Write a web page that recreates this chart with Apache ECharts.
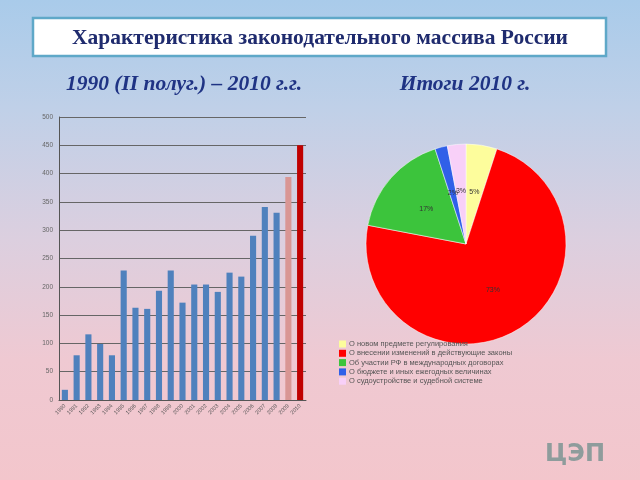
<!DOCTYPE html>
<html><head><meta charset="utf-8">
<script src="https://cdn.jsdelivr.net/npm/echarts@6/dist/echarts.min.js"></script>
<style>
html,body{margin:0;padding:0;width:640px;height:480px;overflow:hidden;}
body{background:linear-gradient(180deg,#a9cbea 0%,#bfd0e8 22%,#dccfdf 50%,#efc9d2 75%,#f3c6cc 100%);}
#c{width:640px;height:480px;}
</style></head>
<body><div id="c"></div>
<script>
const years = ['1990','1991','1992','1993','1994','1995','1996','1997','1998','1999','2000','2001','2002','2003','2004','2005','2006','2007','2008','2009','2010'];
const laws = [18,79,116,99,79,229,163,161,193,229,172,204,204,191,225,218,290,341,331,394,450];
const yTicks = [0,50,100,150,200,250,300,350,400,450,500];
const pieNames = ['О новом предмете регулирования','О внесении изменений в действующие законы','Об участии РФ в международных договорах','О бюджете и иных ежегодных величинах','О судоустройстве и судебной системе'];
const pieValues = [5,73,17,2,3];

const pieColors = ['#fdfd9c','#ff0000','#3cc43c','#3060e8','#f8d0f8'];
const barColor = function(p){ if(p.name==='2010') return '#c00000'; if(p.name==='2009') return '#d99694'; return '#4f81bd'; };

const chart = echarts.init(document.getElementById('c'), null, {renderer:'canvas'});
chart.setOption({
  backgroundColor:'transparent',
  animation:false,
  graphic:[
    {type:'rect', shape:{x:33,y:18,width:573,height:38}, style:{fill:'#ffffff', stroke:'#5fa8c8', lineWidth:2.5}},
    {type:'text', x:320, y:38, style:{text:'Характеристика законодательного массива России', font:'bold 21.5px "Liberation Serif", "DejaVu Serif", serif', fill:'#1f2b6e', align:'center', verticalAlign:'middle'}},
    {type:'text', x:184, y:84, style:{text:'1990 (II полуг.) – 2010 г.г.', font:'italic bold 21.5px "Liberation Serif", "DejaVu Serif", serif', fill:'#1f3384', align:'center', verticalAlign:'middle'}},
    {type:'text', x:465, y:84, style:{text:'Итоги 2010 г.', font:'italic bold 21.5px "Liberation Serif", "DejaVu Serif", serif', fill:'#1f3384', align:'center', verticalAlign:'middle'}},
    {type:'text', x:575, y:455, style:{text:'ЦЭП', font:'bold 24px "DejaVu Sans", sans-serif', fill:'#8e9c9c', align:'center', verticalAlign:'middle'}}
  ],
  grid:{left:59, right:334, top:117, bottom:80, containLabel:false},
  xAxis:{type:'category', data:years, boundaryGap:true,
    axisLine:{show:true, lineStyle:{color:'#555', width:1}},
    axisTick:{show:false},
    axisLabel:{interval:0, rotate:45, fontSize:5.5, color:'#555', margin:5, fontFamily:'Liberation Sans'}},
  yAxis:{type:'value', min:0, max:500, interval:50,
    axisLine:{show:true, lineStyle:{color:'#555', width:1}},
    axisTick:{show:false},
    splitLine:{show:true, lineStyle:{color:'#666', width:1}},
    axisLabel:{fontSize:6.5, color:'#666', margin:6, fontFamily:'Liberation Sans',
      formatter:function(v){return yTicks.indexOf(v)>=0? String(v):'';}}},
  legend:{orient:'vertical', left:334, top:335, itemWidth:7, itemHeight:7, itemGap:1.3, icon:'rect',
    itemStyle:{borderWidth:0},
    textStyle:{fontSize:7.5, lineHeight:7, color:'#555', fontFamily:'Liberation Sans', padding:[0,0,0,-2]},
    data:pieNames},
  series:[
    {type:'bar', data:laws, barWidth:'52%', itemStyle:{color:barColor}},
    {type:'pie', center:[466,244], radius:100, startAngle:90, clockwise:true,
      data:pieNames.map(function(n,i){return {name:n, value:pieValues[i], itemStyle:{color:pieColors[i]}};}),
      itemStyle:{borderColor:'#ffffff', borderWidth:0.5},
      avoidLabelOverlap:false,
      labelLayout:{hideOverlap:false},
      label:{show:true, position:'inside', formatter:'{d}%', fontSize:7, color:'#333', fontFamily:'Liberation Sans'},
      labelLine:{show:false}, emphasis:{disabled:true}}
  ]
});
</script></body></html>
